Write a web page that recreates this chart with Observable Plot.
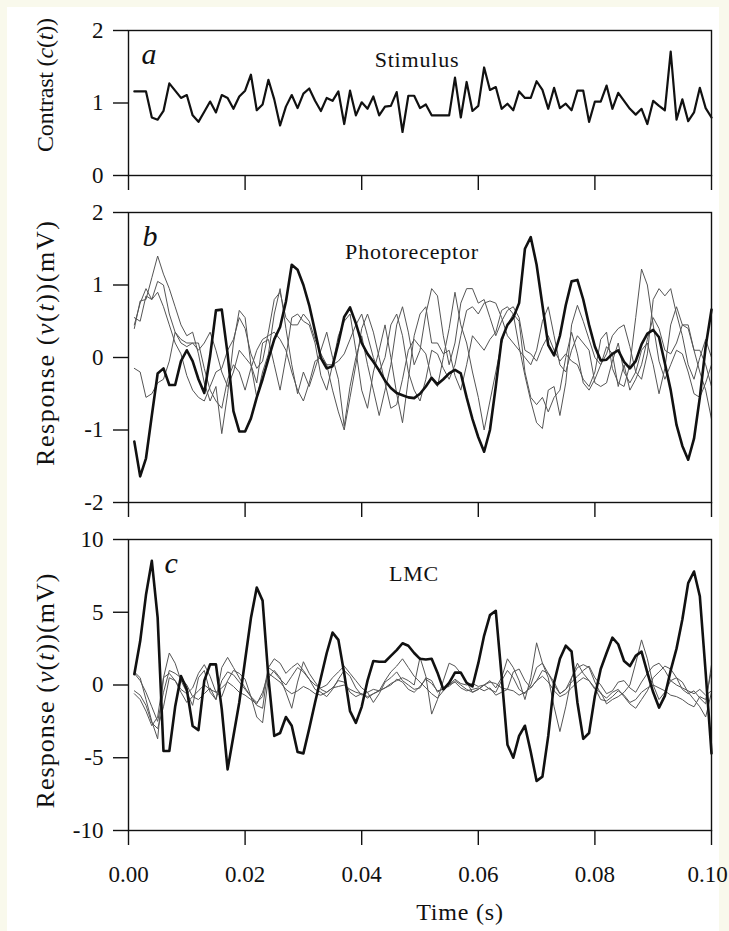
<!DOCTYPE html>
<html>
<head>
<meta charset="utf-8">
<script src="https://cdn.jsdelivr.net/npm/d3@7"></script>
<script src="https://cdn.jsdelivr.net/npm/@observablehq/plot@0.6"></script>
<style>
  html, body { margin: 0; padding: 0; background: #f9f9ec; overflow: hidden; }
  #page { position: relative; width: 729px; height: 931px; overflow: hidden; background: #f9f9ec; }
  #sheet { position: absolute; left: 7px; top: 7px; width: 712px; height: 924px; background: #ffffff; }
  .panel { position: absolute; left: 0; }
</style>
</head>
<body>
<div id="page"><div id="sheet"></div></div>
<script>
// ---------- DATA ----------
const timeMs = [1,2,3,4,5,6,7,8,9,10,11,12,13,14,15,16,17,18,19,20,21,22,23,24,25,26,27,28,29,30,
  31,32,33,34,35,36,37,38,39,40,41,42,43,44,45,46,47,48,49,50,51,52,53,54,55,56,57,58,59,60,
  61,62,63,64,65,66,67,68,69,70,71,72,73,74,75,76,77,78,79,80,81,82,83,84,85,86,87,88,89,90,
  91,92,93,94,95,96,97,98,99,100];

const stimulus = [1.16,1.16,1.16,0.80,0.77,0.89,1.27,1.17,1.07,1.11,
  0.83,0.74,0.88,1.02,0.87,1.11,1.07,0.92,1.09,1.17,
  1.39,0.90,0.98,1.32,1.05,0.69,0.95,1.11,0.93,1.13,
  1.20,1.03,0.89,1.07,1.03,1.16,0.71,1.17,0.83,1.01,
  0.92,1.09,0.83,0.95,0.96,1.15,0.60,1.10,1.10,0.93,
  0.98,0.83,0.83,0.83,0.83,1.35,0.80,1.29,0.89,0.96,
  1.49,1.18,1.22,0.92,0.99,0.90,1.16,1.07,1.07,1.30,
  1.18,0.92,1.21,0.93,0.99,0.90,1.17,1.17,0.74,1.02,
  1.02,1.24,0.92,1.14,1.03,0.92,0.84,0.92,0.71,1.03,
  0.96,0.90,1.71,0.77,1.05,0.75,0.87,1.21,0.93,0.80];

const photoMean = [-1.16,-1.64,-1.39,-0.80,-0.22,-0.15,-0.38,-0.38,-0.05,0.10,
  -0.05,-0.30,-0.49,0.02,0.65,0.66,0.05,-0.74,-1.02,-1.02,
  -0.84,-0.55,-0.30,-0.02,0.25,0.42,0.77,1.28,1.21,1.00,
  0.72,0.36,-0.01,-0.15,-0.12,0.20,0.56,0.69,0.47,0.20,
  0.05,-0.06,-0.18,-0.32,-0.42,-0.49,-0.52,-0.55,-0.56,-0.50,
  -0.40,-0.28,-0.37,-0.30,-0.22,-0.17,-0.22,-0.55,-0.85,-1.10,
  -1.30,-1.00,-0.40,0.25,0.45,0.55,0.75,1.50,1.66,1.28,
  0.72,0.17,0.03,0.30,0.72,1.05,1.07,0.80,0.45,0.15,
  -0.04,-0.03,0.05,0.10,-0.06,-0.15,-0.05,0.18,0.33,0.38,
  0.28,-0.08,-0.45,-0.93,-1.22,-1.41,-1.12,-0.55,0.15,0.66];

const photoTrial1 = [0.40,0.78,0.80,1.10,1.40,1.15,0.95,0.70,0.45,0.30,
  0.35,0.05,-0.35,-0.60,-0.40,-1.05,-0.50,0.20,0.65,0.55,
  -0.10,-0.55,-0.20,0.05,0.60,0.95,0.40,-0.10,-0.50,-0.20,
  -0.40,-0.15,0.10,0.35,0.00,-0.30,-0.95,-0.40,0.00,0.30,
  -0.10,-0.45,-0.80,-0.45,-0.10,0.45,0.70,0.35,-0.10,0.10,
  0.60,0.95,0.85,0.30,-0.10,0.20,0.75,0.95,0.95,0.75,
  0.80,0.55,0.30,0.50,0.65,0.70,0.55,0.10,0.05,-0.05,
  0.15,0.30,0.10,-0.05,0.05,-0.05,-0.10,-0.30,-0.40,-0.20,
  0.25,0.35,-0.15,-0.35,-0.40,-0.10,0.55,1.22,1.00,0.45,
  -0.05,-0.30,-0.10,0.10,0.05,-0.20,-0.50,-0.55,-0.35,-0.10];

const photoTrial2 = [0.55,0.50,0.85,0.80,0.90,0.70,0.45,0.20,0.05,-0.25,
  -0.45,-0.55,-0.60,-0.40,-0.20,-0.15,0.10,0.25,0.55,0.40,
  0.05,-0.15,-0.05,0.35,0.80,0.90,0.55,0.45,0.45,0.60,
  0.50,0.25,0.05,-0.10,-0.10,-0.05,0.05,0.25,0.45,0.60,
  0.30,0.00,-0.20,0.00,0.45,0.60,0.30,-0.20,-0.45,-0.60,
  -0.30,0.10,0.05,-0.15,-0.30,-0.10,0.30,0.65,0.70,0.60,
  0.75,0.78,0.75,0.55,0.30,0.20,0.10,0.00,-0.10,0.10,
  0.50,0.70,0.30,-0.10,-0.20,0.10,0.30,0.20,0.10,-0.35,
  -0.40,-0.35,-0.05,0.20,-0.20,-0.35,-0.20,0.10,0.20,-0.10,
  -0.50,-0.15,0.45,0.70,0.45,0.40,0.10,-0.20,-0.45,-0.85];

const photoTrial3 = [-0.15,-0.20,-0.55,-0.50,-0.35,-0.30,-0.05,0.35,0.25,0.20,
  0.20,0.10,0.20,0.35,0.10,-0.20,-0.40,-0.20,0.10,0.00,
  -0.10,-0.35,0.20,0.25,-0.10,-0.45,0.00,0.55,0.60,0.50,
  0.45,0.20,-0.25,-0.45,-0.10,0.30,0.50,0.60,0.10,-0.45,
  -0.70,-0.20,0.10,0.45,0.00,-0.50,-0.90,-0.30,0.30,0.60,
  0.70,0.20,0.20,0.05,0.10,-0.25,-0.45,-0.10,0.30,0.20,
  0.10,0.25,0.35,0.65,0.70,0.60,0.15,-0.25,-0.60,-0.90,
  -0.98,-0.45,-0.40,-0.80,-0.35,0.45,0.72,0.50,0.25,0.00,
  -0.10,0.15,0.05,-0.40,-0.10,-0.45,-0.30,-0.10,0.25,0.55,
  0.40,0.10,0.05,0.20,0.45,0.45,0.10,0.10,-0.10,-0.40];

const photoTrial4 = [0.45,0.75,0.95,0.80,1.05,1.00,0.60,0.35,0.20,0.15,
  0.20,0.20,-0.15,-0.45,-0.60,-0.70,-0.30,-0.10,-0.20,-0.45,
  -0.15,0.10,0.25,0.30,0.35,0.25,0.10,-0.20,-0.45,-0.60,
  -0.35,-0.05,0.00,-0.10,-0.45,-0.75,-1.00,-0.55,-0.10,0.40,
  0.60,0.35,0.00,-0.35,-0.70,-0.65,-0.30,0.10,0.25,0.15,
  0.05,-0.30,-0.40,0.00,0.40,0.90,0.45,0.20,-0.20,-0.55,
  -1.00,-0.60,-0.20,0.20,0.45,0.60,0.50,-0.20,-0.55,-0.65,
  -0.55,-0.75,-0.55,-0.45,0.00,0.35,0.05,-0.35,-0.45,-0.30,
  -0.10,0.05,0.30,0.40,0.45,0.15,-0.20,-0.30,0.05,0.80,
  0.95,0.85,0.95,0.60,0.30,-0.10,-0.30,0.00,0.25,0.00];

const lmcMean = [0.74,3.0,6.2,8.53,4.63,-4.54,-4.54,-1.5,0.62,-0.3,
  -2.82,-3.1,0.3,1.42,1.42,-1.67,-5.8,-3.5,-1.2,1.7,
  4.6,6.7,5.8,0.5,-3.5,-3.3,-2.2,-2.8,-4.6,-4.7,
  -3.0,-1.2,0.5,2.2,3.6,3.1,0.8,-1.8,-2.6,-1.5,
  0.3,1.65,1.6,1.6,2.0,2.4,2.87,2.7,2.2,1.8,
  1.75,1.8,0.85,-0.3,0.15,0.85,0.85,0.15,-0.1,1.5,
  3.4,4.8,5.1,0.6,-4.1,-5.0,-3.5,-2.8,-4.6,-6.6,
  -6.3,-3.5,0.15,1.8,2.7,2.3,-1.2,-3.7,-3.3,-0.75,
  1.1,2.2,3.25,2.8,1.65,1.3,2.0,2.3,0.85,-0.5,
  -1.55,-0.75,1.0,2.5,4.5,7.0,7.8,6.1,0.85,-4.7];

const lmcTrial1 = [0.9,0.5,-1.0,-2.5,-3.7,0.5,2.2,1.5,0.3,-0.5,
  -1.4,0.5,1.0,-0.5,-1.0,1.2,1.9,1.2,0.5,-0.2,
  -0.8,-1.4,-1.6,1.2,1.8,1.5,0.8,1.2,1.5,1.0,
  0.4,-0.3,-0.5,-0.8,-0.3,0.4,1.0,0.6,-0.2,-0.7,
  -0.5,-0.3,-0.4,0.3,0.9,1.3,1.8,1.2,0.6,0.2,
  -0.2,-0.6,-0.9,-0.4,0.0,0.4,0.1,0.0,0.1,-0.1,
  0.0,0.2,0.1,-0.2,-0.3,0.9,1.1,0.3,-0.2,0.3,
  1.0,0.8,0.2,-0.6,-0.3,0.5,1.2,1.4,1.2,0.2,
  -0.6,-0.9,-0.5,-0.3,-0.8,-1.3,-1.6,-1.0,-0.4,0.5,
  0.9,1.3,1.1,0.5,-0.3,-0.6,-0.4,-0.9,-1.3,1.4];

const lmcTrial2 = [-0.6,-1.0,-1.8,-2.8,-2.2,0.5,0.8,0.3,-0.3,-0.6,
  -0.2,0.8,1.4,0.6,-0.5,-0.8,0.3,1.0,0.8,0.4,
  -0.8,-2.2,-2.6,0.5,1.0,0.5,-0.5,-1.6,0.2,1.6,
  0.8,0.2,-0.3,-0.5,-0.2,0.3,0.2,-0.5,-0.8,-0.6,
  -0.9,-0.6,-0.4,-0.2,0.1,0.3,0.5,0.3,0.0,1.9,
  0.6,-2.0,-1.0,0.3,1.5,1.3,0.8,0.2,-0.5,-0.3,
  0.0,0.3,-0.2,0.5,1.8,1.2,0.3,-1.0,0.5,2.9,
  1.5,0.5,-1.5,-3.2,-1.5,0.5,1.5,0.8,0.3,-0.3,
  -0.5,-1.3,-1.0,-0.8,-0.5,0.0,1.5,3.1,1.8,0.0,
  -1.0,-0.5,0.3,0.5,0.2,-0.5,-1.0,-1.5,-2.2,-0.5];

const lmcTrial3 = [0.8,0.3,-0.5,-1.5,-2.5,-0.5,1.0,0.8,0.5,0.0,
  -0.8,-1.0,-0.6,-0.2,-1.0,0.3,0.9,0.7,0.2,-0.3,
  -0.8,-1.2,-0.8,1.2,0.9,0.4,0.0,0.6,1.2,0.9,
  0.4,0.0,-0.2,0.0,0.5,0.9,1.3,0.8,0.3,-0.2,
  -0.5,-1.2,-0.6,0.2,0.5,0.9,0.3,0.0,-0.3,-0.2,
  0.5,0.3,-0.5,-0.2,-0.1,0.3,0.0,-0.3,-0.5,-0.3,
  0.0,-0.3,-0.5,0.3,1.0,0.5,-0.3,-0.6,0.0,1.2,
  1.5,0.8,0.0,-0.6,-0.3,0.2,0.6,1.0,1.3,0.5,
  0.0,-0.6,-0.4,0.2,0.3,-0.2,-0.5,0.2,0.8,1.3,
  1.5,1.0,0.3,0.0,-0.2,-0.4,-0.6,-0.3,-0.7,-0.4];

const lmcTrial4 = [-0.4,-0.7,-1.4,-2.6,-3.0,-1.5,0.5,0.3,-0.5,-1.2,
  -0.8,-0.4,0.0,-0.3,-0.5,-0.2,0.2,-0.1,-0.5,-0.7,
  -1.0,-1.3,-0.5,0.8,0.5,0.2,-0.3,-0.6,-0.4,-0.1,
  -0.3,-0.6,-0.7,-0.5,-0.2,-0.1,0.0,-0.3,-0.5,-0.6,
  -0.8,-0.6,-0.4,-0.2,0.0,0.4,0.2,-0.3,-0.5,-0.1,
  0.4,0.1,-0.4,-0.3,0.0,0.2,-0.2,-0.4,-0.3,-0.2,
  -0.4,-0.2,-0.7,-0.5,-0.3,-0.4,-0.7,-0.5,-0.2,0.3,
  0.6,0.2,-0.4,-0.8,-0.6,-0.2,0.2,0.5,0.3,-0.2,
  -1.0,-1.1,-0.8,-0.4,-0.7,-1.2,-1.0,-0.5,-0.2,0.0,
  -0.2,-0.4,-0.7,-0.8,-1.0,-1.3,-1.5,-0.8,-1.0,1.0];

const xTicks = [0, 0.02, 0.04, 0.06, 0.08, 0.10];
const yTicksA = [0, 1, 2];
const yTicksB = [-2, -1, 0, 1, 2];
const yTicksC = [-10, -5, 0, 5, 10];

const panelLetters = ["a", "b", "c"];
const panelTitles = ["Stimulus", "Photoreceptor", "LMC"];
const yLabelA = "Contrast (c(t))";
const yLabelResp = "Response (v(t))(mV)";
const xLabel = "Time (s)";

// ---------- helpers ----------
function rows(series) {
  const out = [];
  for (const [name, values] of series)
    values.forEach((v, i) => out.push({t: timeMs[i] / 1000, v, s: name}));
  return out;
}
const FONT = "'Liberation Serif', 'Times New Roman', serif";
const INK = "#111";
const fmtX = d3.format(".2f");

function panel({top, height, marginTop, marginBottom, yDomain, yTicks, mean, trials,
                meanWidth, letter, letterDx, title, titleDx, titleDy, yLabel, yLabelDy, yLabelLen, yLabelSize, bottomLabels}) {
  const marks = [
    Plot.axisY({ticks: yTicks, tickSize: 15, tickPadding: 10, strokeWidth: 1.4, stroke: INK,
      tickFormat: d => String(d), fontSize: 23, fill: INK, label: null}),
    Plot.axisX({ticks: xTicks, tickSize: 15, strokeWidth: 1.4, stroke: INK,
      tickFormat: () => "", label: null}),
  ];
  if (bottomLabels) {
    // labels for 0.00 ... 0.08 centred on their ticks; the last one nudged so it stays on the page
    marks.push(Plot.axisX({ticks: xTicks.slice(0, -1), tickSize: 0, tickPadding: 35, stroke: "none",
      tickFormat: fmtX, fontSize: 23, fill: INK, label: null}));
    marks.push(Plot.axisX({ticks: xTicks.slice(-1), tickSize: 0, tickPadding: 35, stroke: "none", dx: -4,
      tickFormat: fmtX, fontSize: 23, fill: INK, label: null}));
  }
  if (trials) marks.push(Plot.line(rows(trials), {x: "t", y: "v", z: "s", stroke: "#555", strokeWidth: 1}));
  marks.push(Plot.line(rows([["mean", mean]]), {x: "t", y: "v", stroke: INK, strokeWidth: meanWidth}));
  marks.push(Plot.frame({stroke: INK, strokeWidth: 1.4}));
  marks.push(Plot.text([letter], {text: d => d, frameAnchor: "top-left", textAnchor: "start", lineAnchor: "bottom",
    dx: letterDx, dy: 33, fontSize: 30, fontStyle: "italic", fill: INK}));
  marks.push(Plot.text([title], {text: d => d, frameAnchor: "top", textAnchor: "middle", lineAnchor: "bottom",
    dx: titleDx, dy: titleDy, fontSize: 22, fill: INK}));
  marks.push(Plot.text([yLabel], {text: d => d, frameAnchor: "left", rotate: -90, textAnchor: "middle", lineAnchor: "middle",
    dx: -83, dy: yLabelDy, fontSize: yLabelSize, fill: INK}));
  if (bottomLabels) marks.push(Plot.text([xLabel], {text: d => d, frameAnchor: "bottom", textAnchor: "middle",
    lineAnchor: "middle", dx: 40, dy: 82, fontSize: 24, fill: INK}));

  const svg = Plot.plot({
    width: 729, height, marginLeft: 128, marginRight: 18, marginTop, marginBottom,
    style: {fontFamily: FONT, fontSize: "22px", background: "transparent", color: INK, overflow: "visible"},
    x: {domain: [0, 0.1]},
    y: {domain: yDomain},
    marks
  });
  svg.classList.add("panel");
  svg.style.top = top + "px";
  svg.style.maxWidth = "none";
  // rich (italic) axis label and letter spacing tweaks
  svg.querySelectorAll("text").forEach(el => {
    const s = el.textContent;
    if (s === yLabel) {
      const parts = s === yLabelA
        ? [["Contrast (", 0], ["c", 1], ["(", 0], ["t", 1], ["))", 0]]
        : [["Response (", 0], ["v", 1], ["(", 0], ["t", 1], ["))(mV)", 0]];
      while (el.firstChild) el.removeChild(el.firstChild);
      for (const [str, it] of parts) {
        const ts = document.createElementNS("http://www.w3.org/2000/svg", "tspan");
        ts.textContent = str;
        if (it) ts.setAttribute("font-style", "italic");
        el.appendChild(ts);
      }
      el.setAttribute("textLength", yLabelLen);
      el.setAttribute("lengthAdjust", "spacing");
    } else if (s === title || s === xLabel) {
      el.setAttribute("letter-spacing", "0.8");
    }
  });
  return svg;
}

const page = document.getElementById("page");
page.appendChild(panel({
  top: 0, height: 195, marginTop: 30, marginBottom: 20, yDomain: [0, 2], yTicks: yTicksA,
  mean: stimulus, trials: null, meanWidth: 2.2,
  letter: panelLetters[0], letterDx: 13, title: panelTitles[0], titleDx: -3, titleDy: 36,
  yLabel: yLabelA, yLabelDy: -18, yLabelLen: 134, yLabelSize: 24, bottomLabels: false
}));
page.appendChild(panel({
  top: 195, height: 327, marginTop: 17, marginBottom: 20, yDomain: [-2, 2], yTicks: yTicksB,
  mean: photoMean, trials: [["1", photoTrial1], ["2", photoTrial2], ["3", photoTrial3], ["4", photoTrial4]], meanWidth: 2.6,
  letter: panelLetters[1], letterDx: 14, title: panelTitles[1], titleDx: -8, titleDy: 46,
  yLabel: yLabelResp, yLabelDy: -14, yLabelLen: 245, yLabelSize: 26, bottomLabels: false
}));
page.appendChild(panel({
  top: 522, height: 409, marginTop: 17, marginBottom: 101, yDomain: [-10, 10], yTicks: yTicksC,
  mean: lmcMean, trials: [["1", lmcTrial1], ["2", lmcTrial2], ["3", lmcTrial3], ["4", lmcTrial4]], meanWidth: 2.6,
  letter: panelLetters[2], letterDx: 36, title: panelTitles[2], titleDx: -6, titleDy: 41,
  yLabel: yLabelResp, yLabelDy: 6, yLabelLen: 235, yLabelSize: 26, bottomLabels: true
}));
</script>
</body>
</html>
